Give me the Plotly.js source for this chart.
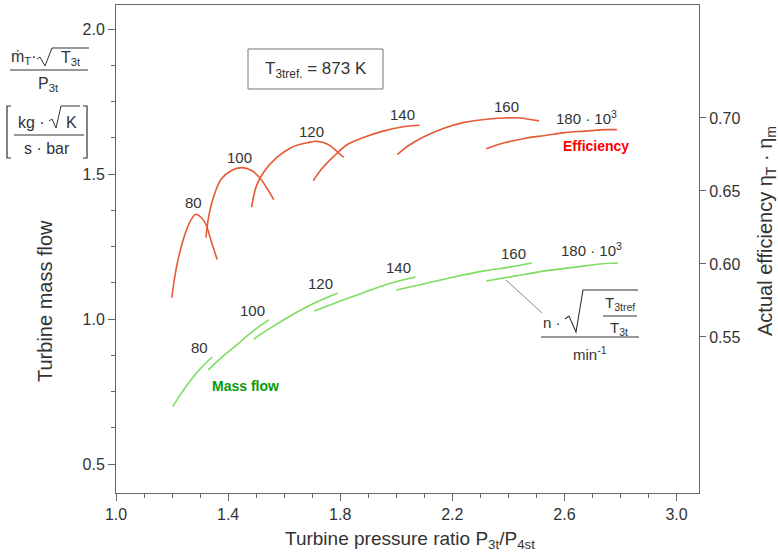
<!DOCTYPE html>
<html><head><meta charset="utf-8">
<script src="https://cdn.plot.ly/plotly-3.0.1.min.js"></script>
<style>html,body{margin:0;padding:0;background:#fff}</style>
</head><body>
<div id="chart" style="width:778px;height:554px"></div>
<script>
// ---- Data ----
// Turbine speeds (x 10^3 min^-1)
const speeds = ["80", "100", "120", "140", "160", "180 · 10<sup>3</sup>"];

// Efficiency curves (right axis): pressure ratio and efficiency
const effX80  = [1.199, 1.217, 1.242, 1.267, 1.285, 1.303, 1.321, 1.339, 1.361];
const effY80  = [0.577, 0.599, 0.618, 0.630, 0.634, 0.632, 0.627, 0.616, 0.603];
const effX100 = [1.321, 1.332, 1.350, 1.375, 1.412, 1.448, 1.484, 1.513, 1.538, 1.563];
const effY100 = [0.618, 0.634, 0.647, 0.658, 0.664, 0.666, 0.664, 0.659, 0.652, 0.644];
const effX120 = [1.484, 1.502, 1.531, 1.574, 1.628, 1.682, 1.718, 1.755, 1.783, 1.812];
const effY120 = [0.639, 0.654, 0.664, 0.673, 0.680, 0.683, 0.684, 0.682, 0.678, 0.673];
const effX140 = [1.704, 1.729, 1.773, 1.827, 1.888, 1.953, 2.025, 2.083];
const effY140 = [0.657, 0.664, 0.673, 0.682, 0.687, 0.691, 0.694, 0.695];
const effX160 = [2.004, 2.043, 2.097, 2.170, 2.242, 2.314, 2.386, 2.440, 2.477, 2.509];
const effY160 = [0.675, 0.681, 0.687, 0.693, 0.697, 0.699, 0.700, 0.700, 0.699, 0.698];
const effX180 = [2.321, 2.386, 2.458, 2.530, 2.603, 2.675, 2.747, 2.787];
const effY180 = [0.679, 0.683, 0.686, 0.688, 0.690, 0.691, 0.692, 0.692];

// Mass flow curves (left axis): pressure ratio and corrected mass flow
const mfX80  = [1.202, 1.231, 1.267, 1.303, 1.343];
const mfY80  = [0.697, 0.741, 0.790, 0.831, 0.869];
const mfX100 = [1.329, 1.375, 1.430, 1.484, 1.545];
const mfY100 = [0.824, 0.866, 0.910, 0.955, 0.997];
const mfX120 = [1.491, 1.556, 1.628, 1.708, 1.791];
const mfY120 = [0.931, 0.972, 1.014, 1.055, 1.090];
const mfX140 = [1.708, 1.791, 1.881, 1.971, 2.069];
const mfY140 = [1.028, 1.059, 1.090, 1.121, 1.145];
const mfX160 = [2.000, 2.097, 2.206, 2.314, 2.404, 2.484];
const mfY160 = [1.100, 1.121, 1.145, 1.166, 1.179, 1.193];
const mfX180 = [2.321, 2.422, 2.531, 2.639, 2.729, 2.791];
const mfY180 = [1.131, 1.148, 1.166, 1.179, 1.190, 1.193];

// Tick labels
const xTickVals = [1.0, 1.4, 1.8, 2.2, 2.6, 3.0];
const xTickText = ["1.0", "1.4", "1.8", "2.2", "2.6", "3.0"];
const yTickVals = [0.5, 1.0, 1.5, 2.0];
const yTickText = ["0.5", "1.0", "1.5", "2.0"];
const y2TickVals = [0.55, 0.60, 0.65, 0.70];
const y2TickText = ["0.55", "0.60", "0.65", "0.70"];

// ---- Layout geometry ----
const W = 778, H = 554;
const M = {l: 116, r: 79, t: 5, b: 61};
const PW = W - M.l - M.r, PH = H - M.t - M.b;
const px = v => (v - M.l) / PW;       // pixel x -> paper x
const py = v => (H - M.b - v) / PH;   // pixel y -> paper y

const EFF = '#e65a36', MF = '#7ddc62', TXT = '#333', AX = '#666';
const FONT = 'Liberation Sans, Arial, sans-serif';

const effSets = [[effX80, effY80], [effX100, effY100], [effX120, effY120], [effX140, effY140], [effX160, effY160], [effX180, effY180]];
const mfSets = [[mfX80, mfY80], [mfX100, mfY100], [mfX120, mfY120], [mfX140, mfY140], [mfX160, mfY160], [mfX180, mfY180]];

const traces = [];
effSets.forEach((s, i) => traces.push({x: s[0], y: s[1], yaxis: 'y2', type: 'scatter', mode: 'lines',
  line: {color: EFF, width: 1.6, shape: 'spline', smoothing: 1}, name: 'Eff ' + speeds[i], hoverinfo: 'x+y'}));
mfSets.forEach((s, i) => traces.push({x: s[0], y: s[1], yaxis: 'y', type: 'scatter', mode: 'lines',
  line: {color: MF, width: 1.6, shape: 'spline', smoothing: 1}, name: 'MF ' + speeds[i], hoverinfo: 'x+y'}));

function txt(x, y, text, size, extra) {
  return Object.assign({xref: 'paper', yref: 'paper', x: px(x), y: py(y), text: text, showarrow: false,
    xanchor: 'center', yanchor: 'middle', font: {family: FONT, size: size, color: TXT}}, extra || {});
}

// curve labels (pixel positions)
const effLabelPos = [[193, 203], [239, 157], [311, 131], [402, 114], [506, 107], [586, 117]];
const mfLabelPos = [[199, 347], [252, 310], [320, 283], [398, 267], [513, 253], [591, 249]];

const annotations = [];
speeds.forEach((s, i) => {
  annotations.push(txt(effLabelPos[i][0], effLabelPos[i][1], s, 15));
  annotations.push(txt(mfLabelPos[i][0], mfLabelPos[i][1], s, 15));
});
annotations.push(txt(596, 146, '<b>Efficiency</b>', 14, {font: {family: FONT, size: 14, color: '#ff0000'}}));
annotations.push(txt(245, 386, '<b>Mass flow</b>', 14, {font: {family: FONT, size: 14, color: '#0a9a0a'}}));
annotations.push(txt(316, 70, 'T<sub>3tref.</sub> = 873 K', 17));

// axis titles
annotations.push(txt(410, 540, 'Turbine pressure ratio P<sub>3t</sub>/P<sub>4st</sub>', 19));
annotations.push(txt(45, 301, 'Turbine mass flow', 20, {textangle: -90}));
annotations.push(txt(766, 231, 'Actual efficiency η<sub>T</sub> · η<sub>m</sub>', 20, {textangle: -90}));

// top-left unit formula
annotations.push(txt(24, 58, 'ṁ<sub>T</sub>·', 16));
annotations.push(txt(71, 59, 'T<sub>3t</sub>', 16));
annotations.push(txt(48, 85, 'P<sub>3t</sub>', 16));
annotations.push(txt(32, 122, 'kg ·', 16));
annotations.push(txt(71, 122, 'K', 16));
annotations.push(txt(47, 148, 's · bar', 16));

// n sqrt(T3tref/T3t) / min^-1 annotation
annotations.push(txt(552, 322, 'n ·', 15));
annotations.push(txt(620, 303, 'T<sub>3tref</sub>', 15));
annotations.push(txt(619, 328, 'T<sub>3t</sub>', 15));
annotations.push(txt(590, 353, 'min<sup>-1</sup>', 15));

function seg(x0, y0, x1, y1, color, w) {
  return {type: 'line', xref: 'paper', yref: 'paper', x0: px(x0), y0: py(y0), x1: px(x1), y1: py(y1),
    line: {color: color || TXT, width: w || 1}};
}
function poly(pts, w) {
  const d = pts.map((p, i) => (i ? 'L' : 'M') + px(p[0]).toFixed(5) + ',' + py(p[1]).toFixed(5)).join(' ');
  return {type: 'path', xref: 'paper', yref: 'paper', path: d, line: {color: TXT, width: w || 1}};
}
const shapes = [
  // T3tref box
  {type: 'rect', xref: 'paper', yref: 'paper', x0: px(248), y0: py(49), x1: px(383), y1: py(89),
   line: {color: '#777', width: 1}, fillcolor: 'rgba(0,0,0,0)'},
  // top-left formula: radicals, fraction bars, brackets
  poly([[37, 59], [40, 57], [45, 66], [52, 48], [89, 48]]),
  seg(10, 70, 88, 70),
  poly([[49, 121], [52, 119], [56, 128], [61, 106], [80, 106]]),
  seg(14, 135, 84, 135),
  poly([[11, 106], [7, 106], [7, 158], [11, 158]], 1.2),
  poly([[83, 106], [87, 106], [87, 158], [83, 158]], 1.2),
  // n-annotation radical and fraction bars
  poly([[565, 319], [569, 316], [576, 332], [583, 290], [638, 290]], 1.1),
  seg(603, 316, 637, 316), seg(541, 337, 639, 337),
  // leader line
  seg(506, 280, 542, 313, '#888', 1)
];

const layout = {
  width: W, height: H, margin: M, showlegend: false,
  paper_bgcolor: '#fff', plot_bgcolor: '#fff',
  font: {family: FONT, size: 16, color: TXT},
  xaxis: {range: [1.0, 3.08], tickvals: xTickVals, ticktext: xTickText, ticks: 'outside', ticklen: 7,
    tickcolor: AX, showline: true, linecolor: AX, mirror: true, showgrid: false, zeroline: false,
    minor: {dtick: 0.1, tick0: 1.0, ticks: 'outside', ticklen: 4, tickcolor: AX, showgrid: false},
    tickfont: {size: 16, color: TXT}},
  yaxis: {range: [0.40, 2.083], tickvals: yTickVals, ticktext: yTickText, ticks: 'outside', ticklen: 7,
    tickcolor: AX, showline: true, linecolor: AX, showgrid: false, zeroline: false,
    minor: {dtick: 0.125, tick0: 0.5, ticks: 'outside', ticklen: 4, tickcolor: AX, showgrid: false},
    tickfont: {size: 16, color: TXT}},
  yaxis2: {range: [0.4431, 0.7774], overlaying: 'y', side: 'right', tickvals: y2TickVals, ticktext: y2TickText,
    ticks: 'outside', ticklen: 6, tickcolor: AX, showline: true, linecolor: AX, showgrid: false, zeroline: false,
    tickfont: {size: 16, color: TXT}},
  annotations: annotations, shapes: shapes
};
Plotly.newPlot('chart', traces, layout, {displayModeBar: false, staticPlot: true});
</script>
</body></html>
